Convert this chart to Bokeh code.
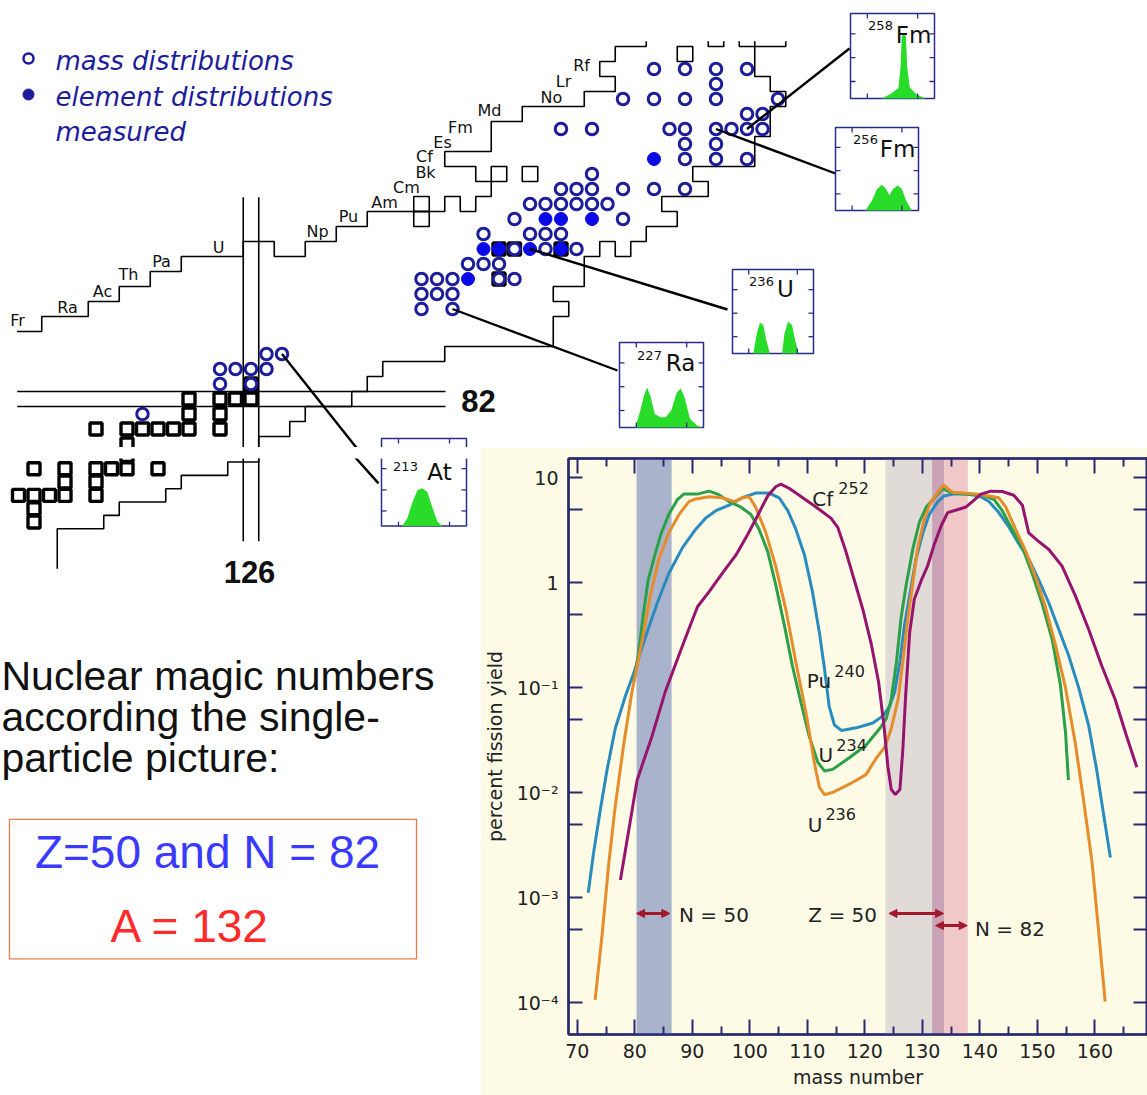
from bokeh.plotting import figure
from bokeh.models import (Range1d, FixedTicker, LinearAxis, LogAxis, BoxAnnotation,
                          Arrow, NormalHead, Label)
from bokeh.layouts import column, row
from bokeh.embed import file_html
from bokeh.resources import INLINE

# ===================== DATA: fission yields (percent) =====================
mass_pu240 = [71.9, 72.8, 74.0, 75.2, 76.6, 78.4, 79.8, 81.9, 83.9, 85.9, 88.3, 90.6, 92.3, 94.1,
              96.4, 98.7, 101.0, 103.4, 105.1, 106.6, 108.0, 109.5, 110.9, 112.1, 113.0, 113.8,
              114.7, 115.9, 118.5, 121.4, 123.2, 124.3, 125.2, 126.1, 126.9, 127.8, 128.9, 130.1,
              131.2, 132.7, 133.8, 135.3, 137.6, 139.9, 141.6, 143.3, 145.1, 146.8, 148.5, 150.3,
              152.0, 153.7, 155.4, 157.2, 158.9, 160.3, 161.5, 162.7]
yield_pu240 = [1.11e-3, 2.59e-3, 6.84e-3, 0.0167, 0.0407, 0.0841, 0.137, 0.308, 0.638, 1.22,
               2.15, 3.22, 4.10, 4.83, 5.45, 6.41, 7.11, 7.11, 6.41, 4.83, 3.22, 1.83, 0.813,
               0.333, 0.149, 0.0661, 0.0441, 0.0390, 0.0413, 0.0459, 0.0540, 0.0661, 0.0912,
               0.175, 0.393, 0.750, 1.68, 2.97, 4.45, 5.90, 6.67, 6.95, 6.95, 6.67, 5.90, 4.63,
               3.35, 2.33, 1.68, 1.04, 0.638, 0.361, 0.205, 0.0991, 0.0441, 0.0167, 6.31e-3, 2.40e-3]

mass_u234 = [79.8, 80.6, 81.4, 82.3, 83.3, 84.5, 85.9, 87.4, 88.5, 90.9, 92.9, 94.4, 96.4, 98.4,
             100.2, 101.6, 103.1, 104.5, 106.0, 107.4, 108.9, 110.3, 111.8, 113.0, 114.4, 117.3,
             120.2, 122.6, 123.7, 124.6, 125.5, 126.3, 127.2, 128.4, 129.5, 130.7, 132.1, 133.5,
             135.3, 137.6, 140.5, 142.5, 143.9, 145.6, 147.4, 149.1, 150.8, 152.6, 154.0, 154.9, 155.4]
yield_u234 = [0.112, 0.205, 0.461, 1.04, 1.68, 2.85, 4.45, 6.15, 6.95, 6.95, 7.41, 6.95, 5.90,
              5.24, 4.45, 3.22, 1.98, 0.955, 0.393, 0.161, 0.0716, 0.0347, 0.0195, 0.0160, 0.0166,
              0.0214, 0.0282, 0.0407, 0.0501, 0.0776, 0.175, 0.461, 0.955, 2.15, 3.78, 5.24, 6.41,
              7.83, 7.11, 6.95, 6.78, 6.15, 4.83, 3.22, 2.15, 1.22, 0.638, 0.284, 0.107, 0.0375, 0.0131]

mass_u236 = [73.1, 74.3, 75.5, 76.6, 78.1, 79.5, 81.3, 82.7, 84.2, 85.9, 87.7, 89.4, 90.6, 92.9,
             95.2, 97.3, 98.7, 99.9, 101.0, 102.8, 104.5, 106.3, 108.0, 109.8, 111.2, 112.1, 113.0,
             114.4, 117.3, 120.2, 122.0, 123.5, 124.6, 125.8, 126.6, 127.5, 128.4, 129.2, 130.4,
             131.5, 132.7, 133.7, 134.4, 135.3, 137.0, 139.3, 141.6, 143.3, 144.5, 146.2, 148.0,
             149.7, 151.4, 153.1, 154.9, 156.6, 158.0, 159.5, 160.6, 161.8]
yield_u236 = [1.06e-4, 4.37e-4, 2.19e-3, 7.41e-3, 0.0295, 0.0912, 0.284, 0.750, 1.68, 2.97, 4.45,
              5.90, 6.25, 6.56, 6.41, 5.90, 6.41, 6.56, 5.24, 2.97, 1.43, 0.542, 0.175, 0.0562,
              0.0195, 0.0112, 0.00955, 0.0100, 0.0120, 0.0148, 0.0213, 0.0271, 0.0407, 0.0776,
              0.175, 0.461, 1.04, 2.15, 4.10, 5.90, 7.23, 8.51, 7.85, 7.23, 7.11, 6.95, 6.67, 6.41,
              5.24, 3.22, 1.98, 1.12, 0.587, 0.262, 0.0991, 0.0294, 0.00871, 0.00220, 5.13e-4, 1.02e-4]

mass_cf252 = [77.5, 80.4, 83.0, 85.3, 87.7, 89.4, 90.9, 92.9, 95.2, 97.6, 99.6, 101.3, 103.1,
              104.5, 105.4, 106.9, 109.2, 111.5, 114.1, 115.3, 116.7, 118.2, 119.7, 121.1, 122.4,
              123.3, 124.0, 124.6, 125.3, 126.1, 126.6, 127.1, 127.8, 128.6, 129.8, 130.9, 132.1,
              133.3, 134.4, 135.9, 137.6, 138.7, 140.2, 141.9, 143.9, 145.9, 147.4, 148.5, 150.0,
              152.0, 154.3, 156.6, 158.9, 161.2, 163.5, 165.5, 167.3]
yield_cf252 = [1.47e-3, 0.0131, 0.0346, 0.0914, 0.205, 0.361, 0.587, 0.813, 1.22, 1.83, 2.85, 4.28,
               6.67, 8.17, 8.65, 7.85, 6.41, 5.24, 4.10, 3.35, 1.98, 1.04, 0.542, 0.262, 0.112,
               0.0447, 0.0178, 0.0107, 0.00955, 0.0107, 0.0251, 0.0841, 0.333, 0.692, 1.04, 1.43,
               2.33, 3.49, 4.63, 4.90, 5.24, 5.90, 6.95, 7.41, 7.35, 6.78, 5.45, 2.97, 2.52, 2.06,
               1.43, 0.750, 0.361, 0.161, 0.0776, 0.0347, 0.0174]

curve_names = ["Pu", "U", "U", "Cf"]
curve_sups = ["240", "234", "236", "252"]

# shell-closure bands (mass number ranges)
band_left = [80.3, 123.6, 131.7, 133.8]
band_right = [86.4, 131.7, 133.8, 137.9]

# arrows marking shells
arrow_text = ["N = 50", "Z = 50", "N = 82"]
arrow_from = [80.3, 124.2, 132.3]
arrow_to = [86.1, 133.7, 137.8]
arrow_level = [7.05e-4, 7.05e-4, 5.4e-4]

x_ticks = [70, 80, 90, 100, 110, 120, 130, 140, 150, 160]
x_minor = [75, 85, 95, 105, 115, 125, 135, 145, 155, 165]
y_ticks = [0.0001, 0.001, 0.01, 0.1, 1.0, 10.0]
y_tick_labels = ["10⁻⁴", "10⁻³", "10⁻²", "10⁻¹", "1", "10"]
y_minor = [0.0005, 0.005, 0.05, 0.5, 5.0]

# ===================== DATA: chart of nuclides (N, Z) =====================
open_n = [119, 124, 126, 124, 125, 126, 127, 127, 128,
          137, 139, 137, 138, 139, 137, 138, 139, 142, 143, 140, 141, 142,
          143, 145, 147, 141, 144, 145, 146, 143, 150,
          144, 145, 146, 147, 148, 149, 146, 147, 148, 150, 152, 154, 148,
          154, 156, 158, 154, 156, 146, 148, 153, 154, 156, 157, 158, 159,
          158, 159, 150, 152, 154, 156, 160, 156, 152, 154, 156, 158]
open_z = [81, 83, 83, 84, 84, 84, 84, 85, 85,
          88, 88, 89, 89, 89, 90, 90, 90, 90, 90, 91, 91, 91,
          92, 92, 92, 93, 93, 93, 93, 94, 94,
          95, 95, 95, 95, 95, 95, 96, 96, 96, 96, 96, 96, 97,
          98, 98, 98, 99, 99, 100, 100, 100, 100, 100, 100, 100, 100,
          101, 101, 102, 102, 102, 102, 102, 103, 104, 104, 104, 104]
filled_n = [140, 141, 142, 144, 146, 145, 146, 148, 152]
filled_z = [90, 92, 92, 92, 92, 94, 94, 94, 98]
square_n = [112, 112, 111, 112, 113, 114, 116, 114, 116, 112, 114, 116, 117, 118, 120, 118,
            116, 118, 119, 120, 121, 122, 124, 122, 124, 122, 124, 125, 126, 126,
            142, 143, 146, 142]
square_z = [74, 75, 76, 76, 76, 76, 76, 77, 77, 78, 78, 78, 78, 78, 78, 79,
            80, 80, 80, 80, 80, 80, 80, 81, 81, 82, 82, 82, 82, 83,
            92, 92, 92, 90]
edge_square_n = [137, 137, 142, 144, 154]
edge_square_z = [94, 95, 97, 97, 105]

upper_n = [110.9, 112.5, 112.5, 115.5, 115.5, 117.5, 117.5, 119.5, 119.5, 121.5, 121.5, 125.5,
           125.5, 127.5, 127.5, 129.5, 129.5, 131.5, 131.5, 133.5, 133.5, 138.5, 138.5, 139.5,
           139.5, 140.5, 140.5, 141.5, 141.5, 140.5, 140.5, 138.5, 138.5, 141.5, 141.5, 143.5,
           143.5, 147.5, 147.5, 149.5, 149.5, 148.5, 148.5, 149.5, 149.5, 151.5, 151.5]
upper_z = [86.5, 86.5, 87.5, 87.5, 88.5, 88.5, 89.5, 89.5, 90.5, 90.5, 91.5, 91.5,
           92.5, 92.5, 91.5, 91.5, 92.5, 92.5, 93.5, 93.5, 94.5, 94.5, 95.5, 95.5,
           94.5, 94.5, 95.5, 95.5, 96.5, 96.5, 97.5, 97.5, 98.5, 98.5, 100.5, 100.5,
           101.5, 101.5, 102.5, 102.5, 103.5, 103.5, 104.5, 104.5, 105.5, 105.5, 105.85]
lower_n = [158.5, 158.5, 159.5, 159.5, 160.5, 160.5, 159.5, 159.5, 158.5, 158.5, 154.5, 154.5,
           155.5, 155.5, 152.5, 152.5, 153.5, 153.5, 151.5, 151.5, 150.5, 150.5, 149.5, 149.5,
           148.5, 148.5, 147.5, 147.5, 145.5, 145.5, 146.5, 146.5, 145.5, 145.5, 138.5, 138.5,
           134.5, 134.5, 133.5, 133.5, 132.5, 132.5, 129.5, 129.5, 128.5, 128.5, 126.5, 126.5,
           124.5, 124.5, 121.5, 121.5, 120.5, 120.5, 117.5, 117.5, 116.5, 116.5, 113.5, 113.5]
lower_z = [105.85, 103.5, 103.5, 102.5, 102.5, 101.5, 101.5, 99.5, 99.5, 97.5, 97.5, 96.5,
           96.5, 95.5, 95.5, 94.5, 94.5, 93.5, 93.5, 92.5, 92.5, 91.5, 91.5, 92.5,
           92.5, 91.5, 91.5, 89.5, 89.5, 88.5, 88.5, 87.5, 87.5, 85.5, 85.5, 84.5,
           84.5, 83.5, 83.5, 82.5, 82.5, 81.5, 81.5, 80.5, 80.5, 79.5, 79.5, 78.5,
           78.5, 77.5, 77.5, 76.5, 76.5, 75.5, 75.5, 74.5, 74.5, 73.5, 73.5, 70.5]
stub_n = [[155.5, 155.5, 156.5, 156.5], [157.5, 157.5, 160.5, 160.5]]
stub_z = [[105.85, 105.5, 105.5, 105.85], [105.85, 105.5, 105.5, 105.85]]

element_symbols = ["Fr", "Ra", "Ac", "Th", "Pa", "U", "Np", "Pu", "Am", "Cm", "Bk", "Cf",
                   "Es", "Fm", "Md", "No", "Lr", "Rf"]

# insets: measured mass distributions of selected fissioning nuclei
inset_mass = ["258", "256", "236", "227", "213"]
inset_symbol = ["Fm", "Fm", "U", "Ra", "At"]
inset_n = [158, 156, 144, 139, 128]
inset_z = [100, 100, 92, 88, 85]
inset_u = [
    [0.37, 0.47, 0.57, 0.596, 0.61, 0.635, 0.66, 0.675, 0.706, 0.784, 0.894],
    [0.36, 0.44, 0.5, 0.56, 0.61, 0.65, 0.69, 0.75, 0.8, 0.85, 0.92],
    [0.257, 0.298, 0.339, 0.38, 0.42, 0.46, 0.612, 0.64, 0.686, 0.735, 0.776, 0.816],
    [0.188, 0.248, 0.296, 0.328, 0.368, 0.42, 0.488, 0.548, 0.616, 0.68, 0.728, 0.776, 0.84, 0.928, 0.988],
    [0.244, 0.303, 0.362, 0.421, 0.48, 0.539, 0.598, 0.657, 0.717],
]
inset_h = [
    [0.0, 0.05, 0.12, 0.37, 0.73, 0.76, 0.73, 0.37, 0.13, 0.05, 0.0],
    [0.0, 0.12, 0.26, 0.31, 0.26, 0.18, 0.26, 0.30, 0.26, 0.12, 0.0],
    [0.0, 0.23, 0.37, 0.34, 0.15, 0.0, 0.0, 0.23, 0.38, 0.34, 0.15, 0.0],
    [0.0, 0.2, 0.39, 0.47, 0.37, 0.16, 0.12, 0.12, 0.2, 0.41, 0.46, 0.35, 0.1, 0.02, 0.0],
    [0.0, 0.1, 0.31, 0.47, 0.5, 0.45, 0.25, 0.06, 0.0],
]

legend_texts = ["mass distributions", "element distributions", "measured"]
side_text = ["Nuclear magic numbers", "according the single-", "particle picture:"]

# ===================== LAYOUT (page pixels of the reference) =====================
CELL_W, CELL_H = 15.5, 15.0


def n_at(px):
    return 126 + (px - 250.5) / CELL_W


def z_at(py):
    return 82 + (398.5 - py) / CELL_H


def a_at(px):
    return 80 + (px - 628.0) / 5.81


def f_at(py):
    return 10 ** (1 - (py - 477.0) / 105.0)


elem_px = [(17, 320), (67, 307), (102, 291), (128, 274), (161, 261), (218, 247), (317, 231),
           (348, 216), (384, 202), (406, 187), (425, 172), (424, 156), (442, 142), (460, 127),
           (489, 110), (551, 97), (563, 81), (581, 65)]
inset_box_px = [(850, 934, 13, 98), (835, 918, 127, 210), (732, 813, 269, 353),
                (619, 703, 342, 427), (381, 466, 438, 523)]
inset_end_px = [(849, 48), (835, 173), (727, 309), (617, 370), (378, 475)]
inset_sup_px = [(880, 25), (865, 139), (761, 281), (649, 355), (405, 456)]
inset_sym_px = [(913, 34), (897, 148), (785, 288), (680, 362), (439, 462)]
legend_px_y = [60, 96, 131]
side_px_y = [692, 738, 784]

BLUE_RING = "#1d1d9c"
BLUE_FILL = "#0a0ae6"
GREEN = "#2adc2a"
INSET_EDGE = "#2b2b8c"
NAVY = "#2a2a70"
CREAM = "#fdfbe6"
ARROW_RED = "#a3182c"
curve_colors = ["#288cbe", "#2aa048", "#e68c2a", "#96146e"]
band_colors = ["#aab3cc", "#e0dbd6", "#c9a2b6", "#f1c8c8"]


def label(p, x, y, text, size, color="#111111", font="DejaVu Sans", style="normal",
          align="center", baseline="middle"):
    p.add_layout(Label(x=x, y=y, text=text, text_font=font, text_font_size=size,
                       text_color=color, text_font_style=style, text_align=align,
                       text_baseline=baseline))


def draw_nuclides(p, box):
    bx0, bx1, by0, by1 = box

    def plabel(px, py, text, size, **kw):
        # only place a text in the panel that contains it
        if bx0 <= px <= bx1 and by0 <= py <= by1:
            label(p, n_at(px), z_at(py), text, size, **kw)

    p.line(upper_n, upper_z, line_color="black", line_width=1.6)
    p.line(lower_n, lower_z, line_color="black", line_width=1.6)
    p.multi_line(stub_n, stub_z, line_color="black", line_width=1.6)
    # magic number lines N = 126 and Z = 82
    zb, zt = z_at(540), z_at(196.7)
    nl, nr = n_at(16.7), n_at(445)
    p.multi_line([[125.5, 125.5], [126.5, 126.5], [nl, nr], [nl, nr]],
                 [[zb, zt], [zb, zt], [81.5, 81.5], [82.5, 82.5]],
                 line_color="black", line_width=1.6)
    p.rect(edge_square_n, edge_square_z, width=1, height=1, fill_color=None,
           line_color="black", line_width=1.6)
    p.scatter(square_n, square_z, marker="square", size=12, fill_color="white",
              line_color="black", line_width=3.4)
    p.scatter(open_n, open_z, marker="circle", size=11.5, fill_color="white",
              line_color=BLUE_RING, line_width=3)
    p.scatter(filled_n, filled_z, marker="circle", size=13, fill_color=BLUE_FILL,
              line_color=BLUE_FILL, line_width=1)
    # connectors to insets
    p.segment(x0=inset_n, y0=inset_z, x1=[n_at(e[0]) for e in inset_end_px],
              y1=[z_at(e[1]) for e in inset_end_px], line_color="black", line_width=2.4)
    # insets
    for i, (qx0, qx1, qy0, qy1) in enumerate(inset_box_px):
        n0, n1, zlo, zhi = n_at(qx0), n_at(qx1), z_at(qy1), z_at(qy0)
        p.quad(left=[n0], right=[n1], bottom=[zlo], top=[zhi], fill_color="white",
               line_color=INSET_EDGE, line_width=1.5)
        xs = [n0 + u * (n1 - n0) for u in inset_u[i]]
        ys = [zlo + h * (zhi - zlo) for h in inset_h[i]]
        p.varea(x=xs, y1=[zlo] * len(xs), y2=ys, fill_color=GREEN)
        tn, tz = 5 / CELL_W, 5 / CELL_H
        x0, y0, x1, y1 = [], [], [], []
        for f in (0.2, 0.48, 0.76):
            zz = zlo + f * (zhi - zlo)
            x0 += [n0, n1]; x1 += [n0 + tn, n1 - tn]; y0 += [zz, zz]; y1 += [zz, zz]
        for f in (0.2, 0.8):
            nn = n0 + f * (n1 - n0)
            x0 += [nn, nn]; x1 += [nn, nn]; y0 += [zlo, zhi]; y1 += [zlo + tz, zhi - tz]
        p.segment(x0=x0, y0=y0, x1=x1, y1=y1, line_color=INSET_EDGE, line_width=1.3)
        sx, sy = inset_sup_px[i]
        plabel(sx, sy, inset_mass[i], "13px")
        ex, ey = inset_sym_px[i]
        plabel(ex, ey, inset_symbol[i], "23px")
    # element labels
    for s, (ex, ey) in zip(element_symbols, elem_px):
        plabel(ex, ey, s, "16px")
    plabel(478, 400, "82", "31px", font="Liberation Sans", style="bold")
    plabel(249, 575, "126", "31px", font="Liberation Sans", style="bold")
    # legend
    p.scatter([n_at(28)], [z_at(58)], marker="circle", size=10, fill_color="white",
              line_color=BLUE_RING, line_width=2.5)
    p.scatter([n_at(28)], [z_at(94)], marker="circle", size=11, fill_color=BLUE_RING,
              line_color=BLUE_RING)
    for t, yy in zip(legend_texts, legend_px_y):
        plabel(55, yy, t, "26px", color=BLUE_RING, style="italic", align="left")
    # text block
    for t, yy in zip(side_text, side_px_y):
        plabel(1, yy, t, "41px", font="Liberation Sans", align="left")
    p.quad(left=[n_at(9)], right=[n_at(416)], top=[z_at(853)], bottom=[z_at(1010)],
           fill_color=None, line_color="#ef7b4b", line_width=1.3)
    plabel(207, 890, "Z=50 and N = 82", "46px", color="#3a3aff", font="Liberation Sans")
    plabel(190, 973, "A = 132", "46px", color="#ff2b2b", font="Liberation Sans")


def nuclide_fig(px0, px1, py0, py1):
    p = figure(width=px1 - px0, height=py1 - py0, x_range=Range1d(n_at(px0), n_at(px1)),
               y_range=Range1d(z_at(py1), z_at(py0)), x_axis_type=None, y_axis_type=None,
               output_backend="svg", toolbar_location=None, min_border=0,
               outline_line_color=None, background_fill_color="white",
               border_fill_color="white")
    draw_nuclides(p, (px0, px1, py0, py1))
    return p


pa = nuclide_fig(0, 1147, 0, 447)
pb = nuclide_fig(0, 480, 447, 1095)

# ===================== fission yield chart =====================
pc = figure(width=667, height=648, y_axis_type="log",
            x_range=Range1d(a_at(561), a_at(1146)), y_range=Range1d(f_at(1034), f_at(458)),
            output_backend="svg", toolbar_location=None,
            min_border_left=81, min_border_right=0, min_border_top=11, min_border_bottom=61,
            background_fill_color=CREAM, border_fill_color=CREAM,
            outline_line_color=NAVY, outline_line_width=2)
pc.grid.visible = False

for l, r, c in zip(band_left, band_right, band_colors):
    pc.add_layout(BoxAnnotation(left=l, right=r, fill_color=c, fill_alpha=1.0,
                                line_alpha=0, level="underlay"))

for xs, ys, c in zip([mass_pu240, mass_u234, mass_u236, mass_cf252],
                     [yield_pu240, yield_u234, yield_u236, yield_cf252], curve_colors):
    pc.line(xs, ys, line_color=c, line_width=3)

base_px = [(814, 680), (821, 754), (810, 824), (818, 498)]
sup_px = [(845, 670), (847, 744), (836, 813), (849, 487)]
for name, sup, (bx, by), (sx, sy) in zip(curve_names, curve_sups, base_px, sup_px):
    label(pc, a_at(bx), f_at(by), name, "20px", color="#222222")
    label(pc, a_at(sx), f_at(sy), sup, "16px", color="#222222")

arrow_label_px = [(708, 914), (838, 914), (1007, 928)]
for t, a0, a1, lv, (tx, ty) in zip(arrow_text, arrow_from, arrow_to, arrow_level, arrow_label_px):
    pc.add_layout(Arrow(start=NormalHead(size=8, fill_color=ARROW_RED, line_color=ARROW_RED),
                        end=NormalHead(size=8, fill_color=ARROW_RED, line_color=ARROW_RED),
                        x_start=a0, y_start=lv, x_end=a1, y_end=lv,
                        line_color=ARROW_RED, line_width=3))
    label(pc, a_at(tx), f_at(ty), t, "20px", color="#222222")


def style_axis(ax, ticks, minor, major_in, minor_in, show_labels):
    ax.ticker = FixedTicker(ticks=ticks, minor_ticks=minor)
    ax.axis_line_color = NAVY
    ax.axis_line_width = 2.5
    ax.major_tick_line_color = NAVY
    ax.minor_tick_line_color = NAVY
    ax.major_tick_line_width = 2
    ax.minor_tick_line_width = 2
    ax.major_tick_in = major_in
    ax.major_tick_out = 0
    ax.minor_tick_in = minor_in
    ax.minor_tick_out = 0
    if show_labels:
        ax.major_label_text_font = "DejaVu Sans"
        ax.major_label_text_font_size = "19px"
        ax.major_label_text_color = "#222222"
        ax.axis_label_text_font = "DejaVu Sans"
        ax.axis_label_text_font_size = "19px"
        ax.axis_label_text_font_style = "normal"
        ax.axis_label_text_color = "#222222"
    else:
        ax.major_label_text_font_size = "1px"
        ax.major_label_text_alpha = 0
        ax.major_label_standoff = 0


xa = pc.xaxis[0]
style_axis(xa, x_ticks, x_minor, 15, 8, True)
xa.axis_label = "mass number"
xa.major_label_standoff = 9
xa.axis_label_standoff = 5
ya = pc.yaxis[0]
style_axis(ya, y_ticks, y_minor, 14, 14, True)
ya.major_label_overrides = dict(zip(y_ticks, y_tick_labels))
ya.axis_label = "percent fission yield"
ya.major_label_standoff = 10
ya.axis_label_standoff = 8

top_axis = LinearAxis()
style_axis(top_axis, x_ticks, x_minor, 15, 8, False)
pc.add_layout(top_axis, "above")
right_axis = LogAxis()
style_axis(right_axis, y_ticks, y_minor, 14, 14, False)
pc.add_layout(right_axis, "right")

layout = column(pa, row(pb, pc))
open("out.html", "w").write(file_html(layout, INLINE))
